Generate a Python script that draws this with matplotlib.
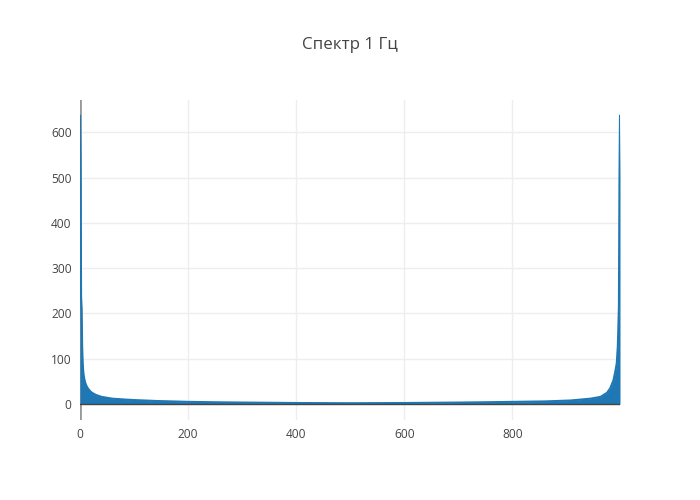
import matplotlib.pyplot as plt

# spectrum samples (bin index, magnitude)
freq = [0, 1, 2, 3, 4, 5, 6, 7, 8, 10, 12, 15, 20, 25, 30, 40, 50, 60, 85, 100,
        140, 200, 260, 300, 400, 500, 600, 700, 740, 800, 860, 907, 944, 963,
        975, 981, 987, 990, 993, 995, 997, 998, 999]
amp = [636, 535, 237, 212, 127, 90, 72, 62, 55, 46, 40, 34, 27, 23, 20, 16, 14, 12, 10, 9,
       7, 5, 4, 3.5, 2.5, 2, 2.5, 3.5, 4, 5, 6, 8, 12, 16,
       25, 35, 53, 70, 90, 128, 215, 494, 636]

xticks = [0, 200, 400, 600, 800]
yticks = [0, 100, 200, 300, 400, 500, 600]

plt.rcParams['font.family'] = ['Open Sans', 'DejaVu Sans']

fig = plt.figure(figsize=(7, 5), dpi=100)
ax = fig.add_axes([80 / 700, 80 / 500, 540 / 700, 320 / 500])

ax.fill_between(freq, amp, 0, color='#1f77b4', linewidth=0, zorder=2)
ax.plot(freq, amp, color='#1f77b4', linewidth=1.5, zorder=2)

ax.set_xlim(0, 999)
ax.set_ylim(-35, 671)
ax.set_xticks(xticks)
ax.set_yticks(yticks)
ax.tick_params(length=0, labelsize=8.6, labelcolor='#444', pad=6)

for t in xticks[1:]:
    ax.axvline(t, color='#eee', linewidth=1, zorder=0)
for t in yticks[1:]:
    ax.axhline(t, color='#eee', linewidth=1, zorder=0)
ax.axhline(0, color='#444', linewidth=1, zorder=3)
ax.axvline(0, color='#999', linewidth=2, zorder=1)

for s in ax.spines.values():
    s.set_visible(False)

fig.text(0.5, 1 - 45 / 500, 'Спектр 1 Гц', ha='center', va='center',
         fontsize=12.2, color='#444')

fig.savefig('out.png', dpi=100)
